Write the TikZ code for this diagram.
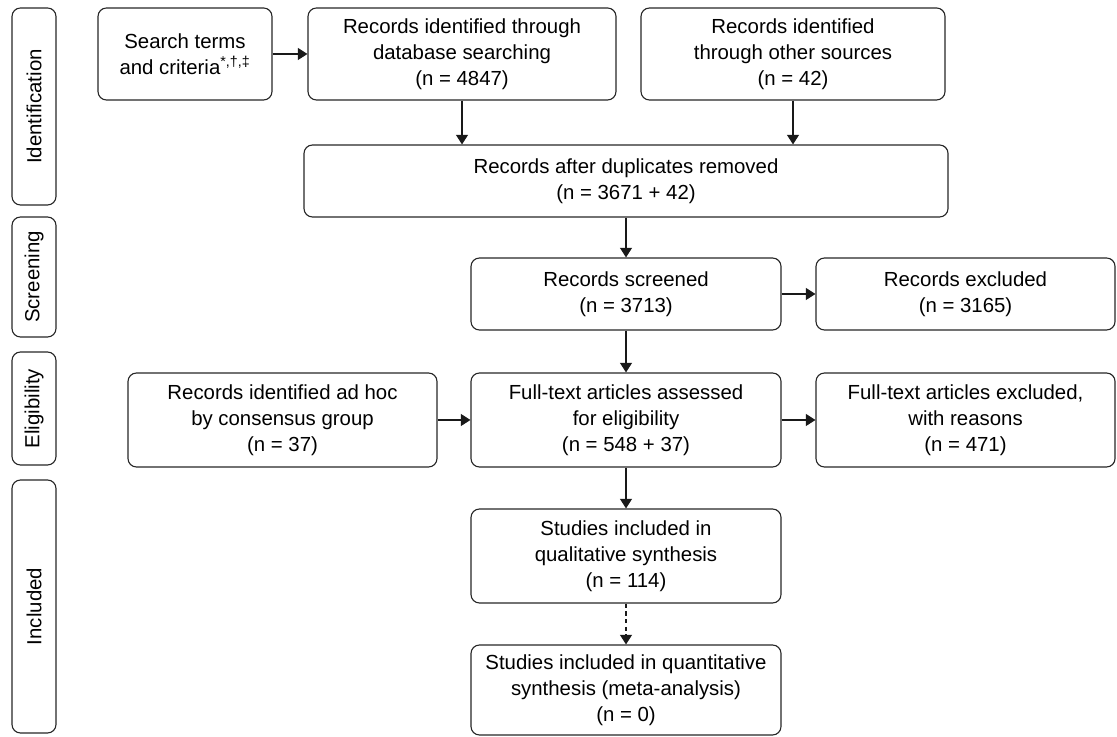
\documentclass[tikz,border=0pt]{standalone}
\usepackage{fontspec}
\setmainfont{Liberation Sans}
\usetikzlibrary{arrows.meta}

\begin{document}
\begin{tikzpicture}[
  box/.style={draw=black!85, rounded corners=6pt, line width=0.8pt, align=center, inner sep=0pt, font=\fontsize{14.5}{18.5}\selectfont},
  stage/.style={draw=black!85, rounded corners=6pt, line width=0.8pt, inner sep=0pt, rotate=90, minimum height=1.1cm, font=\fontsize{14.5}{18.5}\selectfont},
  arr/.style={-{Triangle[length=2.4mm, width=3mm]}, line width=0.8pt, draw=black!90},
]
  \useasboundingbox (0, 0) rectangle (27.925, 18.425);

  % Stage labels
  \node[stage, minimum width=4.925cm] (sIdent) at (0.85, 15.7625) {Identification};
  \node[stage, minimum width=3cm] (sScreen) at (0.85, 11.5) {Screening};
  \node[stage, minimum width=2.825cm] (sElig) at (0.85, 8.2125) {Eligibility};
  \node[stage, minimum width=6.325cm] (sIncl) at (0.85, 3.2625) {Included};

  % Identification
  \node[box, minimum width=4.35cm, minimum height=2.3cm] (search) at (4.625, 17.075) {Search terms\\and criteria\textsuperscript{*,†,‡}};
  \node[box, minimum width=7.7cm, minimum height=2.3cm] (db) at (11.55, 17.075) {Records identified through\\database searching\\(n = 4847)};
  \node[box, minimum width=7.6cm, minimum height=2.3cm] (other) at (19.825, 17.075) {Records identified\\through other sources\\(n = 42)};
  \node[box, minimum width=16.1cm, minimum height=1.8cm] (dup) at (15.65, 13.9) {Records after duplicates removed\\(n = 3671 + 42)};

  % Screening
  \node[box, minimum width=7.75cm, minimum height=1.8cm] (screened) at (15.65, 11.075) {Records screened\\(n = 3713)};
  \node[box, minimum width=7.475cm, minimum height=1.8cm] (excl) at (24.1375, 11.075) {Records excluded\\(n = 3165)};

  % Eligibility
  \node[box, minimum width=7.725cm, minimum height=2.35cm] (adhoc) at (7.0625, 7.925) {Records identified ad hoc\\by consensus group\\(n = 37)};
  \node[box, minimum width=7.75cm, minimum height=2.35cm] (fulltext) at (15.65, 7.925) {Full-text articles assessed\\for eligibility\\(n = 548 + 37)};
  \node[box, minimum width=7.475cm, minimum height=2.35cm] (ftexcl) at (24.1375, 7.925) {Full-text articles excluded,\\with reasons\\(n = 471)};

  % Included
  \node[box, minimum width=7.75cm, minimum height=2.35cm] (qual) at (15.65, 4.525) {Studies included in\\qualitative synthesis\\(n = 114)};
  \node[box, minimum width=7.75cm, minimum height=2.25cm] (quant) at (15.65, 1.175) {Studies included in quantitative\\synthesis (meta-analysis)\\(n = 0)};

  % Arrows
  \draw[arr] (search) -- (db);
  \draw[arr] (db.south) -- (db.south |- dup.north);
  \draw[arr] (other.south) -- (other.south |- dup.north);
  \draw[arr] (dup) -- (screened);
  \draw[arr] (screened) -- (excl);
  \draw[arr] (screened) -- (fulltext);
  \draw[arr] (adhoc) -- (fulltext);
  \draw[arr] (fulltext) -- (ftexcl);
  \draw[arr] (fulltext) -- (qual);
  \draw[arr, dash pattern=on 3pt off 2.5pt] (qual) -- (quant);
\end{tikzpicture}
\end{document}
